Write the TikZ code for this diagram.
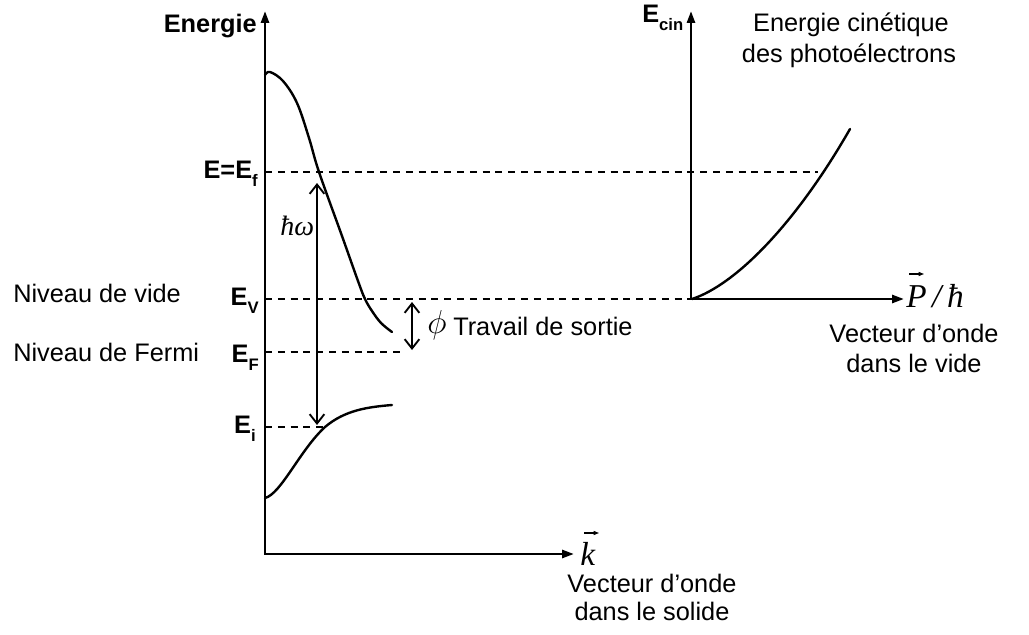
\documentclass[tikz,border=0pt]{standalone}
\usepackage{fontspec}
\setmainfont{Liberation Sans}
\newfontfamily\tnr{Liberation Serif}
\usetikzlibrary{arrows.meta}
\newcommand\lsub[1]{\raisebox{-6pt}{\fontsize{12.5}{14}\selectfont #1}}
\begin{document}
\begin{tikzpicture}[x=0.75pt,y=-0.75pt,
  axis/.style={line width=2pt, line join=miter,
    {Triangle[length=9pt,width=6pt]}-{Triangle[length=9pt,width=6pt]}},
  curve/.style={line width=1.8pt, line join=round, line cap=round},
  level/.style={line width=1.1pt, dash pattern=on 5.3pt off 4.3pt},
  dbl/.style={line width=1.4pt,
    {Straight Barb[length=7pt,width=11pt]}-{Straight Barb[length=7pt,width=11pt]}},
  vecar/.style={line width=0.8pt, -{Triangle[length=4pt,width=3pt]}},
  txt/.style={font=\fontsize{19}{23}\selectfont, inner sep=0pt},
  lbl/.style={font=\fontsize{19}{23}\selectfont\bfseries, inner sep=0pt},
  sym/.style={font=\fontsize{21}{25}\selectfont\tnr\itshape, inner sep=0pt},
  big/.style={font=\fontsize{25}{30}\selectfont\tnr\itshape, inner sep=0pt}]
\useasboundingbox (0,0) rectangle (1029,635);

% left axes
\coordinate (Ytop) at (265,11);
\coordinate (O1) at (265,554);
\coordinate (Xend) at (574,554);
\draw[axis] (Ytop) -- (O1) -- (Xend);

% right axes
\coordinate (Ytop2) at (691,11);
\coordinate (O2) at (691,299);
\coordinate (Xend2) at (904,299);
\draw[axis] (Ytop2) -- (O2) -- (Xend2);

% level coordinates
\coordinate (f0) at (265,172);
\coordinate (f1) at (818,172);
\coordinate (v0) at (265,299);
\coordinate (F0) at (265,352);
\coordinate (F1) at (404,352);
\coordinate (i0) at (265,427);
\coordinate (i1) at (324,427);
\draw[level] (f0) -- (f1);
\draw[level] (v0) -- (O2);
\draw[level] (F0) -- (F1);
\draw[level] (i0) -- (i1);

% curves
\draw[curve] plot[smooth, tension=0.6] coordinates {(265,75) (270,72) (283,81) (297,103) (309,138) (319,172) (342,236) (358,281) (365,299) (372,311) (381,323) (392,332)};
\draw[curve] (265,498) .. controls (281,494) and (300,450) .. (325,427)
  .. controls (345,410) and (368,407) .. (392,405);
\draw[curve] (692,299) .. controls (735,285) and (795,225) .. (850,129);

% arrows
\coordinate (hw0) at (317,183);
\coordinate (hw1) at (317,425);
\draw[dbl] (hw0) -- (hw1);
\coordinate (ph0) at (412,302);
\coordinate (ph1) at (412,350);
\draw[dbl] (ph0) -- (ph1);

% labels
\node[lbl, anchor=base east] (lEn) at (257,33) {Energie};
\node[lbl, anchor=base west] (lEc) at (642,23) {E\lsub{cin}};
\node[lbl, anchor=base east] (lEf) at (258,178) {E=E\lsub{f}};
\node[lbl, anchor=base east] (lEV) at (259,305) {E\lsub{V}};
\node[lbl, anchor=base east] (lEF) at (259,362) {E\lsub{F}};
\node[lbl, anchor=base east] (lEi) at (256,433) {E\lsub{i}};

\node[txt, anchor=base west] (nv) at (13,302) {Niveau de vide};
\node[txt, anchor=base west] (nf) at (13,361) {Niveau de Fermi};
\node[txt, anchor=base west] (ts) at (453,335) {Travail de sortie};
\node[inner sep=0pt, font=\fontsize{23}{27}\selectfont, anchor=base west] (phi) at (427,333) {$\phi$};
\node[sym, anchor=base west] (hw) at (280,235) {ħω};

\node[big, anchor=base west] (kv) at (580,565) {k};
\coordinate (ka0) at (584,533);
\coordinate (ka1) at (599,533);
\draw[vecar] (ka0) -- (ka1);
\node[big, anchor=base west] (pv) at (906,307) {P\,/\,ħ};
\coordinate (pa0) at (909,274);
\coordinate (pa1) at (924,274);
\draw[vecar] (pa0) -- (pa1);

\node[txt, anchor=base] (ec1) at (851,32) {Energie cinétique};
\node[txt, anchor=base] (ec2) at (849,63) {des photoélectrons};
\node[txt, anchor=base] (vv1) at (914,342) {Vecteur d’onde};
\node[txt, anchor=base] (vv2) at (914,372) {dans le vide};
\node[txt, anchor=base] (vs1) at (652,592) {Vecteur d’onde};
\node[txt, anchor=base] (vs2) at (652,620) {dans le solide};
\end{tikzpicture}
\end{document}
